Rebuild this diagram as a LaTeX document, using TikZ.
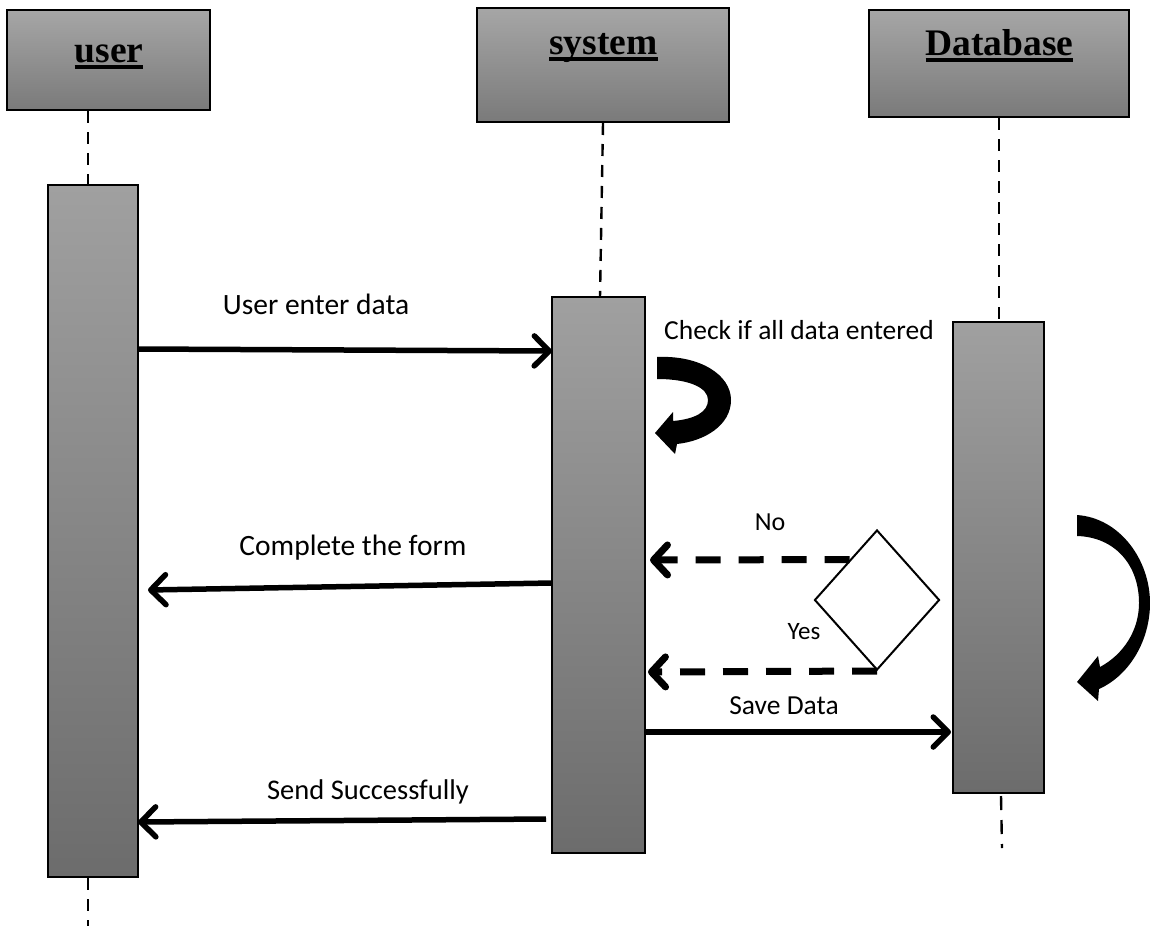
\documentclass[tikz,border=0pt]{standalone}
\usepackage{fontspec}
\setmainfont{Carlito}
\newfontfamily\hdrfont{Liberation Serif}
\usetikzlibrary{arrows.meta,shapes.geometric,calc}
\definecolor{hdrtop}{RGB}{166,166,166}
\definecolor{hdrbot}{RGB}{122,122,122}
\definecolor{bartop}{RGB}{160,160,160}
\definecolor{barbot}{RGB}{108,108,108}
\newcommand\hdrul[1]{\setbox0\hbox{#1}\rlap{\rule[-7pt]{\wd0}{4.5pt}}\box0}
\begin{document}
\begin{tikzpicture}[x=1pt,y=-1pt,
  hdrbox/.style={draw=black, line width=1.2pt, top color=hdrtop, bottom color=hdrbot, inner sep=0pt},
  actbar/.style={draw=black, line width=1.2pt, top color=bartop, bottom color=barbot, inner sep=0pt},
  hdrtext/.style={font=\hdrfont\bfseries\fontsize{37.5}{42}\selectfont, anchor=base, inner sep=0pt},
  msg/.style={font=\fontsize{29.5}{34}\selectfont, inner sep=0pt},
  lifeline/.style={line width=2.4pt, dash pattern=on 12pt off 9pt},
  msgarrow/.style={line width=5.5pt, -{Straight Barb[length=15pt,width=30pt,line cap=round,round]}},
  retarrow/.style={line width=7pt, dash pattern=on 25pt off 18pt, -{Straight Barb[length=14pt,width=30pt,line cap=round,round]}},
  curvearrow/.style={fill=black, draw=none}
]
\useasboundingbox (0,0) rectangle (1150,926);

% headers
\node[hdrbox, minimum width=203pt, minimum height=100pt] (uhead) at (108.5,60) {};
\node[hdrbox, minimum width=252pt, minimum height=114pt] (shead) at (603,65) {};
\node[hdrbox, minimum width=260pt, minimum height=107pt] (dhead) at (999,63.5) {};
\node[hdrtext] (utext) at (109,62) {\hdrul{user}};
\node[hdrtext] (stext) at (603.5,54) {\hdrul{system}};
\node[hdrtext] (dtext) at (999.5,55) {\hdrul{Database}};

% activation bars
\node[actbar, minimum width=90pt, minimum height=692pt] (ubar) at (93,531) {};
\node[actbar, minimum width=93pt, minimum height=556pt] (sbar) at (598.5,575) {};
\node[actbar, minimum width=91pt, minimum height=471pt] (dbar) at (998.5,557.5) {};

% lifelines
\coordinate (ul1) at (88,111);
\coordinate (ul2) at (88,185);
\coordinate (ul3) at (88,878);
\coordinate (ul4) at (88,926);
\coordinate (sl1) at (603,123);
\coordinate (sl2) at (600,297);
\coordinate (dl1) at (999,118);
\coordinate (dl2) at (999,322);
\coordinate (dl3) at (1001,796);
\coordinate (dl4) at (1002,848);
\draw[lifeline] (ul1) -- (ul2);
\draw[lifeline] (ul3) -- (ul4);
\draw[lifeline] (sl1) -- (sl2);
\draw[lifeline] (dl1) -- (dl2);
\draw[lifeline, dash pattern=on 14pt off 10pt] (dl3) -- (dl4);

% decision diamond
\node[diamond, draw=black, line width=2pt, fill=white, minimum width=125pt, minimum height=140pt, inner sep=0pt] (dia) at (877,600) {};

% message end points
\coordinate (m1a) at (138,349);
\coordinate (m1b) at (552,351);
\coordinate (m2a) at (552,583);
\coordinate (m2b) at (148,590);
\coordinate (m3b) at (650,560);
\coordinate (m4b) at (648,672);
\coordinate (m5a) at (645,732);
\coordinate (m5b) at (951,732);
\coordinate (m6a) at (546,819);
\coordinate (m6b) at (138,822);
\coordinate (m3a) at ($(dia.west)!0.57!(dia.north)$);

\draw[msgarrow] (m1a) -- (m1b);
\draw[msgarrow] (m2a) -- (m2b);
\draw[retarrow] (m3a) -- (m3b);
\draw[retarrow] (dia.south) -- (m4b);
\draw[msgarrow] (m5a) -- (m5b);
\draw[msgarrow] (m6a) -- (m6b);

% labels
\node[msg] (l1) at (316,304) {User enter data};
\node[msg, font=\fontsize{27.5}{32}\selectfont] (l2) at (799,330) {Check if all data entered};
\node[msg] (l3) at (353,548) {Complete the form};
\node[msg, font=\fontsize{26}{30}\selectfont] (l4) at (770,522) {No};
\node[msg, font=\fontsize{25}{30}\selectfont] (l5) at (804,632) {Yes};
\node[msg, font=\fontsize{27.5}{32}\selectfont] (l6) at (784,706) {Save Data};
\node[msg, font=\fontsize{28.5}{33}\selectfont] (l7) at (368,792) {Send Successfully};

% self-call curved arrow at system
\path[curvearrow] (657,357) .. controls (700,355) and (731,375) .. (731,400)
  .. controls (731,425) and (705,441) .. (677,444) -- (675,454) -- (655,433) -- (673,412) -- (673,421)
  .. controls (695,419) and (708,412) .. (708,400)
  .. controls (708,388) and (690,379) .. (657,379) -- cycle;

% curved arrow at database
\path[curvearrow] (1077,515) .. controls (1120,518) and (1150,560) .. (1150,603)
  .. controls (1150,640) and (1130,675) .. (1099,689) -- (1098,701) -- (1077,682) -- (1098,656) -- (1100,667)
  .. controls (1124,654) and (1139,630) .. (1139,603)
  .. controls (1139,565) and (1115,537) .. (1077,536) -- cycle;
\end{tikzpicture}
\end{document}
